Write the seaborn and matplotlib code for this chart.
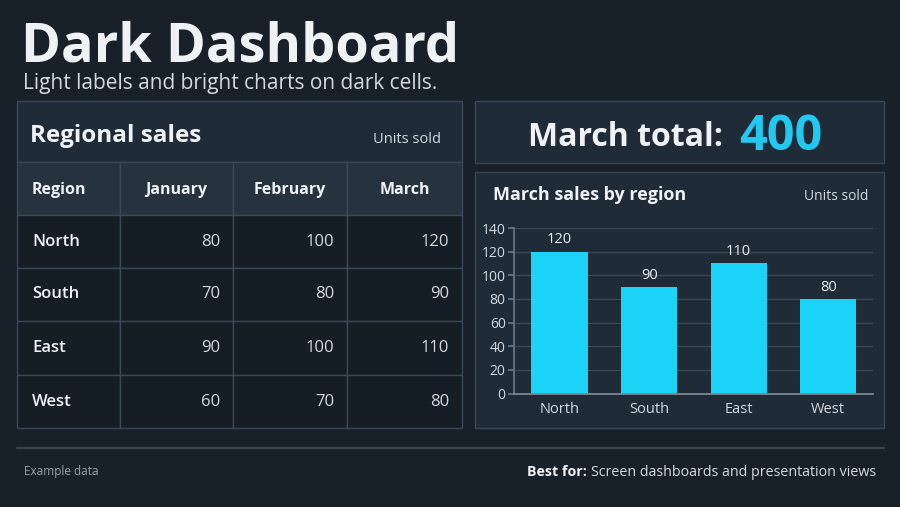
import numpy as np
import pandas as pd
import seaborn as sns
import matplotlib.pyplot as plt
from matplotlib.patches import Rectangle

# данные
regions = ["North", "South", "East", "West"]
months = ["January", "February", "March"]
jan = [80, 70, 90, 60]
feb = [100, 80, 100, 70]
mar = [120, 90, 110, 80]
y_ticks = [0, 20, 40, 60, 80, 100, 120, 140]

BG = "#18212a"
PANEL = "#1f2b37"
HEAD = "#26333f"
ROW = "#151d25"
EDGE = "#3a4857"
WHITE = "#eef2f6"
LIGHT = "#d3dae1"
CYAN = "#1ad3f7"

sns.set_theme(style="dark")
plt.rcParams["font.family"] = ["Open Sans", "DejaVu Sans"]

fig = plt.figure(figsize=(9, 5.07), dpi=100, facecolor=BG)

# фон в пикселях
bg = fig.add_axes([0, 0, 1, 1])
bg.set_xlim(0, 900)
bg.set_ylim(507, 0)
bg.axis("off")
bg.set_facecolor(BG)

bg.text(21, 62, "Dark Dashboard", fontsize=39, fontweight="bold", color=WHITE, va="baseline")
bg.text(23, 89, "Light labels and bright charts on dark cells.", fontsize=15, color=LIGHT, va="baseline")

# таблица
col_edges = [17, 120, 233, 347, 462]
row_edges = [162, 215, 268, 321, 375, 428]
bg.add_patch(Rectangle((17, 101), 445, 61, facecolor=PANEL, edgecolor=EDGE, lw=1))
bg.text(30, 142, "Regional sales", fontsize=17.5, fontweight="bold", color=WHITE, va="baseline")
bg.text(441, 143, "Units sold", fontsize=10.5, color=LIGHT, va="baseline", ha="right")

table = pd.DataFrame({"Region": regions, "January": jan, "February": feb, "March": mar})
header = ["Region"] + months
for j, name in enumerate(header):
    x0, x1 = col_edges[j], col_edges[j + 1]
    bg.add_patch(Rectangle((x0, row_edges[0]), x1 - x0, row_edges[1] - row_edges[0],
                           facecolor=HEAD, edgecolor=EDGE, lw=1))
    if j == 0:
        bg.text(x0 + 15, 190, name, fontsize=11.5, fontweight="bold", color=WHITE, va="center")
    else:
        bg.text((x0 + x1) / 2, 190, name, fontsize=11.5, fontweight="bold", color=WHITE,
                va="center", ha="center")

for i, row in table.iterrows():
    y0, y1 = row_edges[i + 1], row_edges[i + 2]
    yc = (y0 + y1) / 2
    for j, name in enumerate(header):
        x0, x1 = col_edges[j], col_edges[j + 1]
        bg.add_patch(Rectangle((x0, y0), x1 - x0, y1 - y0, facecolor=ROW, edgecolor=EDGE, lw=1))
        if j == 0:
            bg.text(x0 + 15, yc, row[name], fontsize=12, fontweight="semibold", color=WHITE, va="center")
        else:
            bg.text(x1 - 13, yc, str(row[name]), fontsize=12, color=LIGHT, va="center", ha="right")

# итог за март
bg.add_patch(Rectangle((475, 101), 409, 62, facecolor=PANEL, edgecolor=EDGE, lw=1))
bg.text(723, 146, "March total:", fontsize=23, fontweight="bold", color=WHITE, va="baseline", ha="right")
bg.text(739, 150, str(sum(mar)), fontsize=35, fontweight="bold", color="#22c8ef", va="baseline")

# панель графика
bg.add_patch(Rectangle((475, 172), 409, 256, facecolor=PANEL, edgecolor=EDGE, lw=1))
bg.text(493, 200, "March sales by region", fontsize=13, fontweight="bold", color=WHITE, va="baseline")
bg.text(868, 200, "Units sold", fontsize=10, color=LIGHT, va="baseline", ha="right")

# подвал
bg.plot([17, 884], [448, 448], color="#3a4651", lw=1.5)
bg.text(24, 471, "Example data", fontsize=8.5, color="#9aa4ae", va="center")
rest = bg.text(876, 476, "Screen dashboards and presentation views", fontsize=10.3, color=LIGHT,
               va="baseline", ha="right")
fig.canvas.draw()
bb = rest.get_window_extent(renderer=fig.canvas.get_renderer())
left_px = bb.x0 * 900 / fig.bbox.width
bg.text(left_px - 4, 476, "Best for:", fontsize=10.3, fontweight="bold", color=WHITE,
        va="baseline", ha="right")

# столбчатая диаграмма
ax = fig.add_axes([514 / 900, (507 - 393.5) / 507, 359 / 900, 165.5 / 507])
ax.set_facecolor(PANEL)
df = pd.DataFrame({"region": regions, "units": mar})
sns.barplot(data=df, x="region", y="units", color=CYAN, width=0.63, saturation=1,
            edgecolor="none", linewidth=0, ax=ax)
ax.bar_label(ax.containers[0], padding=3, fontsize=10.5, color=WHITE)
ax.set_ylim(0, 140)
ax.set_xlim(-0.51, 3.5)
ax.set_yticks(y_ticks)
ax.set_xlabel("")
ax.set_ylabel("")
ax.grid(axis="y", color="#3d4b59", lw=0.9)
ax.grid(axis="x", visible=False)
ax.set_axisbelow(True)
for s in ["top", "right"]:
    ax.spines[s].set_visible(False)
ax.spines["left"].set_color("#6b7782")
ax.spines["bottom"].set_color("#7d8892")
ax.spines["bottom"].set_linewidth(1.3)
ax.tick_params(axis="y", colors="#6b7782", labelcolor=LIGHT, labelsize=10, length=4, left=True, pad=2)
ax.tick_params(axis="x", labelcolor=LIGHT, labelsize=10.5, length=0, pad=6)

fig.savefig("out.png", dpi=100, facecolor=BG)
